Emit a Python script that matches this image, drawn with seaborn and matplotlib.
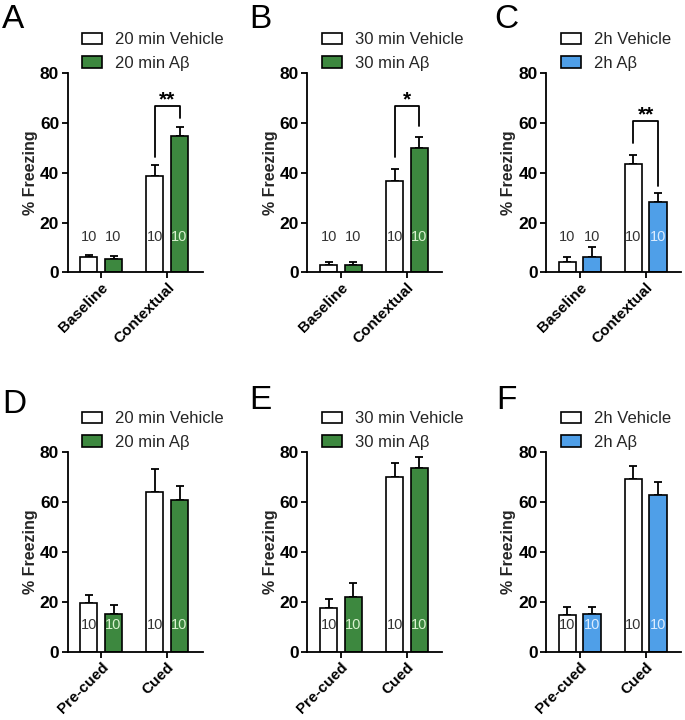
import matplotlib
matplotlib.use("Agg")
import matplotlib.pyplot as plt
import seaborn as sns
import pandas as pd
import numpy as np
from matplotlib.patches import Patch

# ---------------- data ----------------
top_categories = ["Baseline", "Contextual"]
bottom_categories = ["Pre-cued", "Cued"]

panel_letters = ["A", "B", "C", "D", "E", "F"]
vehicle_labels = ["20 min Vehicle", "30 min Vehicle", "2h Vehicle",
                  "20 min Vehicle", "30 min Vehicle", "2h Vehicle"]
abeta_labels = ["20 min A\u03b2", "30 min A\u03b2", "2h A\u03b2",
                "20 min A\u03b2", "30 min A\u03b2", "2h A\u03b2"]

vehicle_mean = {
    "A": [6.0, 38.9], "B": [2.9, 36.7], "C": [4.3, 43.6],
    "D": [19.4, 63.9], "E": [17.5, 70.2], "F": [14.8, 69.3],
}
vehicle_sem = {
    "A": [1.1, 4.3], "B": [1.1, 4.9], "C": [2.0, 3.5],
    "D": [3.3, 9.3], "E": [3.5, 5.7], "F": [3.0, 5.2],
}
abeta_mean = {
    "A": [5.4, 54.8], "B": [3.1, 50.0], "C": [6.3, 28.4],
    "D": [15.3, 60.9], "E": [22.1, 73.6], "F": [15.0, 62.9],
}
abeta_sem = {
    "A": [1.0, 3.5], "B": [0.9, 4.3], "C": [4.0, 3.4],
    "D": [3.6, 5.5], "E": [5.3, 4.4], "F": [2.8, 5.1],
}
n_labels = ["10", "10"]

# significance brackets on the second category: (left leg bottom, top, right leg bottom, stars)
brackets = {
    "A": (46.5, 67.0, 62.0, "**"),
    "B": (46.5, 67.0, 58.8, "*"),
    "C": (51.9, 60.9, 34.5, "**"),
}

green = "#3d883f"
blue = "#4f9fe8"
abeta_colors = [green, green, blue, green, green, blue]
n_text_colors = ["#d9f2cf", "#d9f2cf", "#dcecff", "#d9f2cf", "#d9f2cf", "#dcecff"]

# ---------------- style ----------------
sns.set_theme(style="ticks")
plt.rcParams["font.family"] = ["Liberation Sans", "DejaVu Sans"]
plt.rcParams["axes.linewidth"] = 1.3
plt.rcParams["xtick.major.width"] = 1.3
plt.rcParams["ytick.major.width"] = 1.3
plt.rcParams["xtick.major.size"] = 4
plt.rcParams["ytick.major.size"] = 4
plt.rcParams["axes.edgecolor"] = "black"
plt.rcParams["xtick.color"] = "black"
plt.rcParams["ytick.color"] = "black"

W, H = 685, 720
fig = plt.figure(figsize=(W / 100, H / 100), dpi=100)
fig.patch.set_facecolor("white")

ax_lefts = [67.5, 307.3, 546.0]
ax_w = 135.0
row_y = [(73.3, 272.3), (452.3, 651.7)]  # pixel top(80) / bottom(0)
letter_pos = [(2, 28), (249, 28), (494, 28), (2, 413), (249, 409), (496, 409)]

for i, key in enumerate(panel_letters):
    row, col = divmod(i, 3)
    top_px, bot_px = row_y[row]
    ax = fig.add_axes([ax_lefts[col] / W, (H - bot_px) / H, ax_w / W, (bot_px - top_px) / H])
    cats = top_categories if row == 0 else bottom_categories

    df = pd.DataFrame({
        "category": cats + cats,
        "group": [vehicle_labels[i]] * 2 + [abeta_labels[i]] * 2,
        "value": vehicle_mean[key] + abeta_mean[key],
    })
    sns.barplot(data=df, x="category", y="value", hue="group",
                palette=["white", abeta_colors[i]], edgecolor="black",
                linewidth=1.2, width=0.75, gap=0.3, errorbar=None,
                saturation=1, legend=False, ax=ax, zorder=2)

    veh_bars = list(ax.containers[0])
    ab_bars = list(ax.containers[1])
    veh_x = [b.get_x() + b.get_width() / 2 for b in veh_bars]
    ab_x = [b.get_x() + b.get_width() / 2 for b in ab_bars]

    # upward-only error bars
    ax.errorbar(veh_x, vehicle_mean[key], yerr=[np.zeros(2), vehicle_sem[key]],
                fmt="none", ecolor="black", elinewidth=1.3, capsize=3.2, capthick=1.3, zorder=1)
    ax.errorbar(ab_x, abeta_mean[key], yerr=[np.zeros(2), abeta_sem[key]],
                fmt="none", ecolor="black", elinewidth=1.3, capsize=3.2, capthick=1.3, zorder=1)

    # n labels
    ny = 14.3 if row == 0 else 10.7
    for j in range(2):
        if row == 0 and j == 0:
            c_veh, c_ab = "#333333", "#333333"
        else:
            c_veh, c_ab = "#333333", n_text_colors[i]
        ax.text(veh_x[j], ny, n_labels[j], ha="center", va="center", fontsize=10.5, color=c_veh, zorder=4)
        ax.text(ab_x[j], ny, n_labels[j], ha="center", va="center", fontsize=10.5, color=c_ab, zorder=4)

    # significance brackets
    if key in brackets:
        lb, tp, rb, stars = brackets[key]
        ax.plot([veh_x[1], veh_x[1], ab_x[1], ab_x[1]], [lb, tp, tp, rb],
                color="black", lw=1.3, zorder=3, clip_on=False)
        ax.text((veh_x[1] + ab_x[1]) / 2, tp, stars, ha="center", va="baseline",
                fontsize=15, fontweight="bold", color="black")

    ax.set_xlim(-0.51, 1.535)
    ax.set_ylim(0, 80)
    ax.set_yticks([0, 20, 40, 60, 80])
    ax.set_xlabel("")
    ax.set_ylabel("% Freezing", fontsize=11.5, fontweight="bold")
    ax.yaxis.set_label_coords(-0.22, 0.5)
    ax.tick_params(axis="both", pad=2)
    ax.tick_params(axis="y", labelsize=12.5)
    for lab in ax.get_yticklabels():
        lab.set_fontweight("bold")
    ax.set_xticks([0, 1])
    ax.set_xticklabels(cats, rotation=45, ha="right", va="top",
                       rotation_mode="anchor", fontweight="bold", fontsize=11)
    sns.despine(ax=ax)
    ax.set_facecolor("white")

    # legend
    handles = [Patch(facecolor="white", edgecolor="black", linewidth=1.2, label=vehicle_labels[i]),
               Patch(facecolor=abeta_colors[i], edgecolor="black", linewidth=1.2, label=abeta_labels[i])]
    leg_x = (ax_lefts[col] + 14.5) / W
    leg_y = (H - (top_px - 41)) / H
    fig.legend(handles=handles, loc="upper left", bbox_to_anchor=(leg_x, leg_y),
               frameon=False, fontsize=12, handlelength=1.2, handleheight=0.7,
               handletextpad=0.8, labelspacing=0.5, borderpad=0, borderaxespad=0)

    lx, ly = letter_pos[i]
    fig.text(lx / W, (H - ly) / H, key, fontsize=24, ha="left", va="baseline", color="black")

fig.savefig("out.png", dpi=100, facecolor="white")
